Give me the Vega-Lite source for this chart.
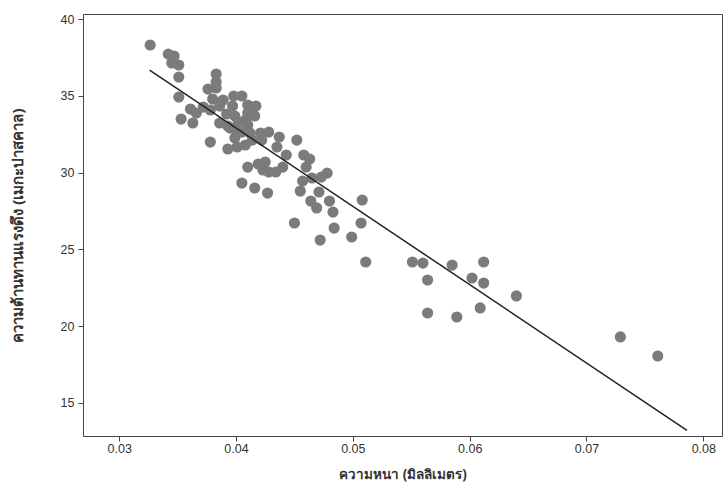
{
  "$schema": "https://vega.github.io/schema/vega-lite/v6.json",
  "autosize": "none",
  "width": 639,
  "height": 422,
  "padding": {"left": 83, "top": 14, "right": 5, "bottom": 58},
  "background": "white",
  "config": {
    "view": {"stroke": "#444444", "strokeWidth": 1},
    "axis": {
      "labelFont": "Liberation Sans",
      "labelFontSize": 12.5,
      "labelColor": "#333333",
      "titleFont": "Noto Sans",
      "titleFontWeight": "bold",
      "titleColor": "#333333",
      "tickColor": "#444444",
      "tickSize": 5,
      "domain": false,
      "grid": false
    }
  },
  "datasets": {
    "pts": [
      {"x": 0.03265, "y": 38.31}, {"x": 0.0342, "y": 37.72}, {"x": 0.0347, "y": 37.59}, {"x": 0.0345, "y": 37.14},
      {"x": 0.0351, "y": 37.01}, {"x": 0.0351, "y": 36.22}, {"x": 0.0351, "y": 34.92}, {"x": 0.0353, "y": 33.49},
      {"x": 0.0361, "y": 34.14}, {"x": 0.0366, "y": 33.88}, {"x": 0.0363, "y": 33.23}, {"x": 0.0372, "y": 34.27},
      {"x": 0.0376, "y": 35.44}, {"x": 0.0383, "y": 36.42}, {"x": 0.0383, "y": 35.9}, {"x": 0.0383, "y": 35.51},
      {"x": 0.038, "y": 34.79}, {"x": 0.0378, "y": 34.08}, {"x": 0.0378, "y": 31.99}, {"x": 0.0389, "y": 34.73},
      {"x": 0.0386, "y": 34.34}, {"x": 0.0398, "y": 34.99}, {"x": 0.0405, "y": 34.99}, {"x": 0.0392, "y": 33.82},
      {"x": 0.0399, "y": 33.69}, {"x": 0.0386, "y": 33.23}, {"x": 0.0393, "y": 33.03}, {"x": 0.0401, "y": 32.64},
      {"x": 0.0399, "y": 32.25}, {"x": 0.0393, "y": 31.54}, {"x": 0.0401, "y": 31.67}, {"x": 0.0408, "y": 31.8},
      {"x": 0.041, "y": 34.4}, {"x": 0.0417, "y": 34.34}, {"x": 0.041, "y": 33.88}, {"x": 0.0416, "y": 33.69},
      {"x": 0.041, "y": 33.1}, {"x": 0.0405, "y": 32.64}, {"x": 0.0412, "y": 32.58}, {"x": 0.0421, "y": 32.58},
      {"x": 0.0428, "y": 32.64}, {"x": 0.0437, "y": 32.32}, {"x": 0.0452, "y": 32.12}, {"x": 0.0414, "y": 32.12},
      {"x": 0.0435, "y": 31.67}, {"x": 0.0443, "y": 31.15}, {"x": 0.0458, "y": 31.15}, {"x": 0.0463, "y": 30.89},
      {"x": 0.046, "y": 30.36}, {"x": 0.044, "y": 30.36}, {"x": 0.041, "y": 30.36}, {"x": 0.0419, "y": 30.56},
      {"x": 0.0425, "y": 30.69}, {"x": 0.0423, "y": 30.17}, {"x": 0.0428, "y": 30.04}, {"x": 0.0434, "y": 30.04},
      {"x": 0.0405, "y": 29.32}, {"x": 0.0416, "y": 29.0}, {"x": 0.0427, "y": 28.67}, {"x": 0.0457, "y": 29.45},
      {"x": 0.0465, "y": 29.65}, {"x": 0.0473, "y": 29.71}, {"x": 0.0478, "y": 29.97}, {"x": 0.0455, "y": 28.8},
      {"x": 0.0471, "y": 28.74}, {"x": 0.0464, "y": 28.15}, {"x": 0.0469, "y": 27.7}, {"x": 0.048, "y": 28.15},
      {"x": 0.0483, "y": 27.43}, {"x": 0.0508, "y": 28.22}, {"x": 0.045, "y": 26.72}, {"x": 0.0484, "y": 26.39},
      {"x": 0.0507, "y": 26.72}, {"x": 0.0499, "y": 25.81}, {"x": 0.0472, "y": 25.61}, {"x": 0.0511, "y": 24.18},
      {"x": 0.0551, "y": 24.18}, {"x": 0.056, "y": 24.11}, {"x": 0.0564, "y": 23.01}, {"x": 0.0585, "y": 23.98},
      {"x": 0.0612, "y": 24.18}, {"x": 0.0602, "y": 23.14}, {"x": 0.0612, "y": 22.81}, {"x": 0.064, "y": 21.97},
      {"x": 0.0564, "y": 20.86}, {"x": 0.0589, "y": 20.6}, {"x": 0.0609, "y": 21.19}, {"x": 0.0729, "y": 19.3},
      {"x": 0.0761, "y": 18.06}, {"x": 0.0397, "y": 34.34}, {"x": 0.0402, "y": 33.29}, {"x": 0.0408, "y": 33.42},
      {"x": 0.0422, "y": 32.12}, {"x": 0.0395, "y": 32.9}
    ],
    "fit": [
      {"x": 0.0326, "y": 36.68},
      {"x": 0.0786, "y": 13.22}
    ]
  },
  "layer": [
    {
      "data": {"name": "pts"},
      "mark": {"type": "circle", "size": 125, "color": "#7b7b7b", "opacity": 1},
      "encoding": {
        "x": {
          "field": "x", "type": "quantitative",
          "scale": {"domain": [0.0269, 0.0816], "nice": false, "zero": false},
          "axis": {"values": [0.03, 0.04, 0.05, 0.06, 0.07, 0.08], "format": ".2f", "labelPadding": 1, "title": "ความหนา (มิลลิเมตร)", "titleFontSize": 13.5, "titlePadding": 13}
        },
        "y": {
          "field": "y", "type": "quantitative",
          "scale": {"domain": [12.85, 40.33], "nice": false, "zero": false},
          "axis": {"values": [15, 20, 25, 30, 35, 40], "labelPadding": 4, "title": "ความต้านทานแรงดึง (เมกะปาสคาล)", "titleFontSize": 15, "titlePadding": 35}
        }
      }
    },
    {
      "data": {"name": "fit"},
      "mark": {"type": "line", "color": "#222222", "strokeWidth": 1.5},
      "encoding": {
        "x": {"field": "x", "type": "quantitative"},
        "y": {"field": "y", "type": "quantitative"}
      }
    }
  ]
}
